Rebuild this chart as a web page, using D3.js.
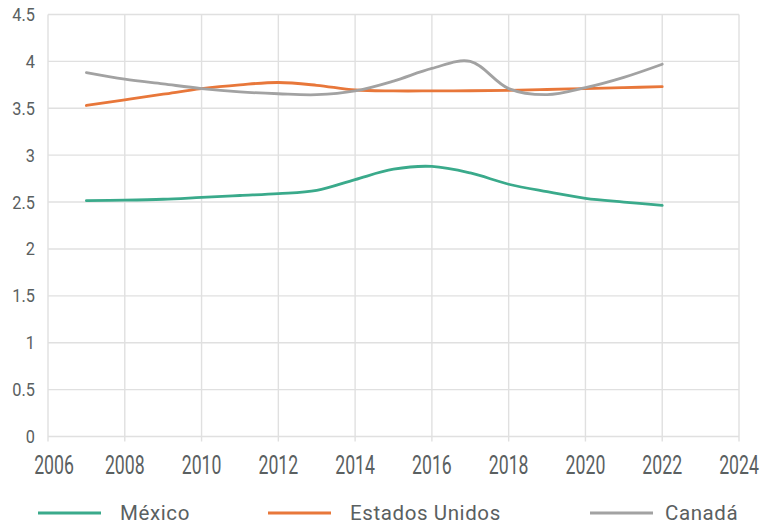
<!DOCTYPE html>
<html>
<head>
<meta charset="utf-8">
<script src="https://cdn.jsdelivr.net/npm/d3@7"></script>
<style>
  html, body { margin: 0; padding: 0; background: #fff; }
  svg { display: block; }
  text { font-family: Roboto, "Open Sans", sans-serif; fill: #5a6061; }
</style>
</head>
<body>
<svg id="chart" width="773" height="526"></svg>
<script>
// Years on the horizontal axis
const years = [2007, 2008, 2009, 2010, 2011, 2012, 2013, 2014, 2015, 2016, 2017, 2018, 2019, 2020, 2021, 2022];

// Series values per year
const mexico = [2.515, 2.52, 2.53, 2.55, 2.57, 2.59, 2.625, 2.74, 2.85, 2.88, 2.81, 2.69, 2.61, 2.54, 2.50, 2.465];
const estadosUnidos = [3.53, 3.59, 3.65, 3.71, 3.75, 3.775, 3.745, 3.695, 3.685, 3.685, 3.687, 3.69, 3.70, 3.71, 3.72, 3.73];
const canada = [3.88, 3.81, 3.76, 3.71, 3.675, 3.655, 3.645, 3.685, 3.79, 3.925, 4.00, 3.71, 3.645, 3.72, 3.83, 3.97];

// Axis ticks
const xTicks = [2006, 2008, 2010, 2012, 2014, 2016, 2018, 2020, 2022, 2024];
const yTicks = [0, 0.5, 1, 1.5, 2, 2.5, 3, 3.5, 4, 4.5];

const seriesNames = ["México", "Estados Unidos", "Canadá"];
const seriesColors = ["#3aaa8b", "#e8773a", "#a2a2a2"];
const seriesValues = [mexico, estadosUnidos, canada];

const svg = d3.select("#chart");

const x = d3.scaleLinear().domain([2006, 2024]).range([48, 739]);
const y = d3.scaleLinear().domain([0, 4.5]).range([436.5, 14.5]);

// Grid
const grid = svg.append("g").attr("stroke", "#e0e0e0").attr("stroke-width", 1.4);
grid.selectAll("line.v").data(xTicks).join("line")
  .attr("class", "v")
  .attr("x1", d => x(d)).attr("x2", d => x(d))
  .attr("y1", y(4.5)).attr("y2", y(0) + 5);
grid.selectAll("line.h").data(yTicks).join("line")
  .attr("class", "h")
  .attr("x1", x(2006)).attr("x2", x(2024))
  .attr("y1", d => y(d)).attr("y2", d => y(d));

// Y tick labels
svg.append("g").selectAll("text").data(yTicks).join("text")
  .attr("transform", d => `translate(35,${y(d) + 6.5}) scale(0.86,1)`)
  .attr("text-anchor", "end")
  .attr("font-size", 19)
  .text(d => d3.format("")(d));

// X tick labels
svg.append("g").selectAll("text").data(xTicks).join("text")
  .attr("transform", (d, i) => `translate(${x(d) + (i === 0 ? 6 : 0)},474) scale(0.68,1)`)
  .attr("text-anchor", "middle")
  .attr("font-size", 26)
  .text(d => d);

// Lines
const line = d3.line()
  .x(d => x(d[0]))
  .y(d => y(d[1]))
  .curve(d3.curveCatmullRom.alpha(0.5));

svg.append("g").selectAll("path").data(seriesValues).join("path")
  .attr("fill", "none")
  .attr("stroke", (d, i) => seriesColors[i])
  .attr("stroke-width", 2.8)
  .attr("stroke-linecap", "round")
  .attr("d", vals => line(years.map((yr, j) => [yr, vals[j]])));

// Legend
const legendLineX = [38, 268, 590];
const legend = svg.append("g").selectAll("g").data(seriesNames).join("g")
  .attr("transform", (d, i) => `translate(${legendLineX[i]},0)`);
legend.append("line")
  .attr("x1", 0).attr("x2", 63)
  .attr("y1", 513).attr("y2", 513)
  .attr("stroke", (d, i) => seriesColors[i])
  .attr("stroke-width", 3);
legend.append("text")
  .attr("x", (d, i) => i === 2 ? 75 : 82)
  .attr("y", 519.5)
  .attr("font-size", 20.5)
  .attr("letter-spacing", 0.6)
  .text(d => d);
</script>
</body>
</html>
